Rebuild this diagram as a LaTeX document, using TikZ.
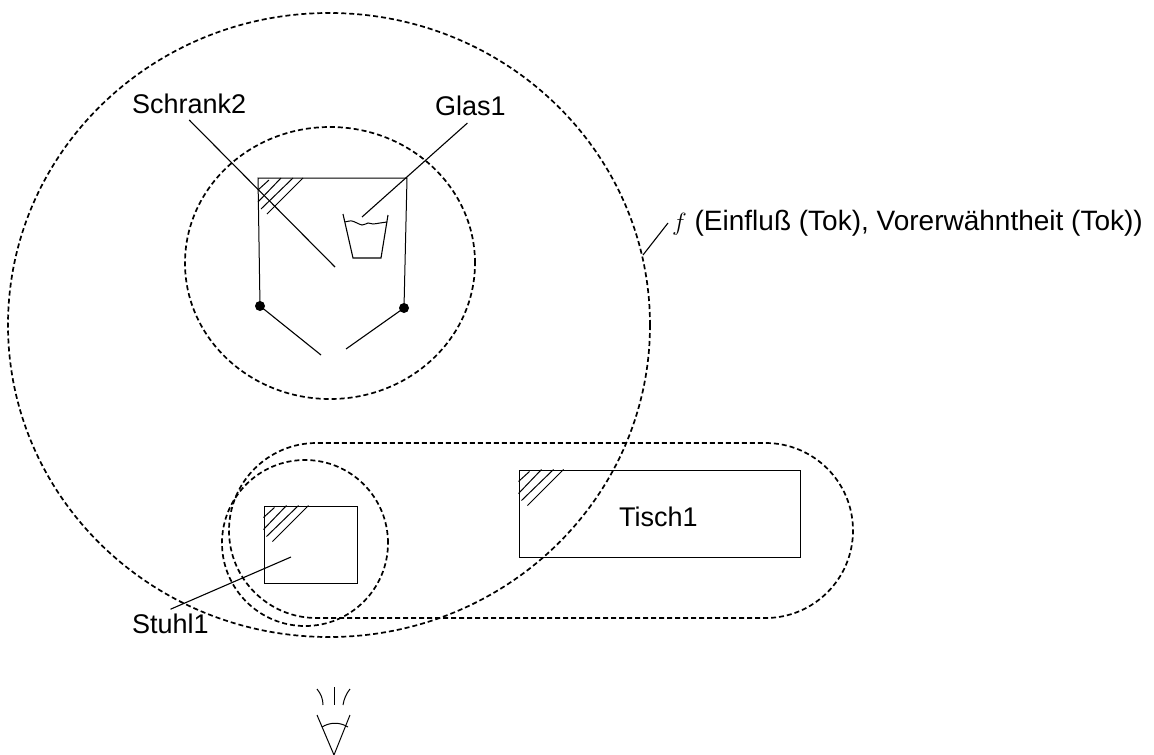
\documentclass[tikz,border=0pt]{standalone}
\usepackage{fontspec}
\setmainfont{Liberation Sans}
\usetikzlibrary{calc}
\tikzset{
  zone/.style={draw=black,line width=1.7pt,dash pattern=on 5pt off 3pt},
  furniture/.style={draw=black,line width=1pt,inner sep=0pt},
  leader/.style={draw=black,line width=1.1pt},
  hatchline/.style={draw=black,line width=1pt},
  label/.style={inner sep=0pt,font=\fontsize{27}{32}\selectfont,anchor=base west}
}
\newcommand{\hatchcorner}[1]{%
  \begin{scope}[shift={(#1)}]
    \foreach \ax/\ay/\bx/\by in {0/12/11/2,0/24/23/0,3/31/35/0,9/36/45/0}
      \draw[hatchline] (\ax,\ay) -- (\bx,\by);
  \end{scope}}
\begin{document}
\begin{tikzpicture}[x=1pt,y=-1pt]
  \useasboundingbox (0,0) rectangle (1154,755);
  % zones
  \draw[zone] (329,325) ellipse [x radius=321pt,y radius=312pt];
  \draw[zone] (330,263) ellipse [x radius=145pt,y radius=136pt];
  \draw[zone] (305,543) circle [radius=83pt];
  \draw[zone,rounded corners=87.5pt] (229,443) rectangle (853,618);
  % Tisch and Stuhl
  \node[furniture,minimum width=281pt,minimum height=87pt] (tisch) at (659.5,513.5) {};
  \node[label] (lbltisch) at (619,526) {Tisch1};
  \node[furniture,minimum width=93pt,minimum height=77pt] (stuhl) at (310.5,544.5) {};
  \hatchcorner{tisch.north west}
  \hatchcorner{stuhl.north west}
  % Schrank
  \coordinate (hingeL) at (260,306);
  \coordinate (hingeR) at (404,308);
  \coordinate (topL) at (258,178);
  \coordinate (topR) at (407,178);
  \draw[furniture] (hingeL) -- (topL) -- (topR) -- (hingeR);
  \fill (hingeL) circle (5pt);
  \fill (hingeR) circle (5pt);
  \coordinate (doorL) at (321,355);
  \coordinate (doorR) at (346,349);
  \draw[leader] (hingeL) -- (doorL);
  \draw[leader] (hingeR) -- (doorR);
  \hatchcorner{topL}
  % Glas
  \draw[leader] (343,214) -- (353,258) -- (381,258) -- (388,215);
  \draw[hatchline] plot[smooth] coordinates {(345,222) (352,221) (362,225) (368,223) (373,224) (380,223) (387,222)};
  % labels
  \node[label] (lblschrank) at (132,113) {Schrank2};
  \node[label] (lblglas) at (435,115) {Glas1};
  \node[label] (lblstuhl) at (132,633) {Stuhl1};
  \node[label,font=\fontsize{28}{32}\selectfont] (lblf) at (672,230) {$f$ (Einfluß (Tok), Vorerwähntheit (Tok))};
  \coordinate (schrankend) at (335,267);
  \coordinate (glasend) at (362,217);
  \coordinate (stuhlend) at (291,557);
  \coordinate (fend) at (643,255);
  \draw[leader] ($(lblschrank.base)+(0,7)$) -- (schrankend);
  \draw[leader] ($(lblglas.base)+(-3,8)$) -- (glasend);
  \draw[leader] ($(lblstuhl.north)+(0,-4)$) -- (stuhlend);
  \draw[leader] ($(lblf.base west)+(-4,-7)$) -- (fend);
  % eye
  \coordinate (eyeL) at (317,715);
  \coordinate (eyeR) at (350,715);
  \coordinate (eyeB) at (334,755);
  \draw[hatchline] (eyeL) -- (eyeB) -- (eyeR);
  \draw[hatchline] (322,727) .. controls (330,722) and (340,722) .. (348,727);
  \draw[hatchline] (334,687) -- (334,705);
  \draw[hatchline] (317,689) .. controls (321,694) and (323,699) .. (323,705);
  \draw[hatchline] (350,689) .. controls (346,694) and (344,699) .. (343,705);
\end{tikzpicture}
\end{document}
